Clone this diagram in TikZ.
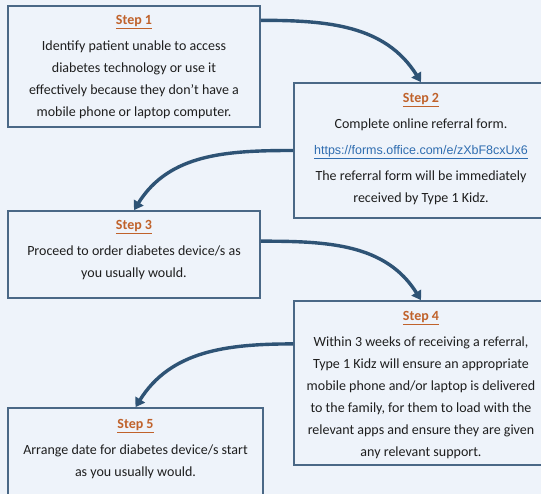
\documentclass[tikz,border=0pt]{standalone}
\usepackage{fontspec}
\setmainfont{Carlito}
\newfontfamily\linkfont{Liberation Sans}
\usepackage{xcolor}
\usetikzlibrary{arrows.meta}

\definecolor{bg}{HTML}{EEF3FA}
\definecolor{boxline}{HTML}{4A6886}
\definecolor{arrowcol}{HTML}{2E5375}
\definecolor{stepcol}{HTML}{C0622B}
\definecolor{linkcol}{HTML}{2F6DB0}
\definecolor{textcol}{HTML}{1E1E1E}

\newcommand{\steptitle}[1]{\textcolor{stepcol}{\textbf{\underline{#1}}}}

\tikzset{
  stepbox/.style={draw=boxline, line width=1.7pt, fill=bg, inner sep=0pt},
  steptext/.style={align=center, anchor=north, inner sep=0pt, text=textcol,
    font=\fontsize{14}{21.9}\selectfont},
  flow/.style={draw=arrowcol, line width=3.4pt,
    -{Triangle[width=11pt,length=9pt]}},
}

\begin{document}
\begin{tikzpicture}[x=1pt, y=-1pt]

    % Page
    \useasboundingbox (0,0) rectangle (541,494);
    \clip (0,0) rectangle (541,494);
    \fill[bg] (0,0) rectangle (541,494);

    % Boxes
    \node[stepbox, minimum width=252pt, minimum height=121pt] (s1) at (134,66.5) {};
    \node[stepbox, minimum width=254pt, minimum height=135pt] (s2) at (421,150.5) {};
    \node[stepbox, minimum width=252pt, minimum height=87pt]  (s3) at (134,254.5) {};
    \node[stepbox, minimum width=254pt, minimum height=164pt] (s4) at (421,383) {};
    \node[stepbox, minimum width=255pt, minimum height=120pt] (s5) at (135.5,468) {};

    % Texts
    \node[steptext] (t1) at (134,15.5) {\steptitle{Step 1}\\[4pt]
        Identify patient unable to access\\
        diabetes technology or use it\\
        effectively because they don’t have a\\
        mobile phone or laptop computer.};
    \node[steptext] (t2) at (421,93.5) {\steptitle{Step 2}\\[4pt]
        Complete online referral form.\\[4pt]
        {\linkfont\fontsize{12.5}{21.9}\selectfont\textcolor{linkcol}{\underline{https://forms.office.com/e/zXbF8cxUx6}}}\\[4pt]
        The referral form will be immediately\\
        received by Type 1 Kidz.};
    \node[steptext] (t3) at (134,220.5) {\steptitle{Step 3}\\[4pt]
        Proceed to order diabetes device/s as\\
        you usually would.};
    \node[steptext] (t4) at (421,311.5) {\steptitle{Step 4}\\[4pt]
        Within 3 weeks of receiving a referral,\\
        Type 1 Kidz will ensure an appropriate\\
        mobile phone and/or laptop is delivered\\
        to the family, for them to load with the\\
        relevant apps and ensure they are given\\
        any relevant support.};
    \node[steptext] (t5) at (135.5,419.5) {\steptitle{Step 5}\\[4pt]
        Arrange date for diabetes device/s start\\
        as you usually would.};

    % Arrows
    \draw[flow] (s1.20) to[out=0, in=122] (s2.north);
    \draw[flow] (s2.west) to[out=180, in=58] (s3.north);
    \draw[flow] (s3.6) to[out=0, in=122] (s4.north);
    \draw[flow] (s4.163) to[out=180, in=58] (s5.north);

\end{tikzpicture}
\end{document}
